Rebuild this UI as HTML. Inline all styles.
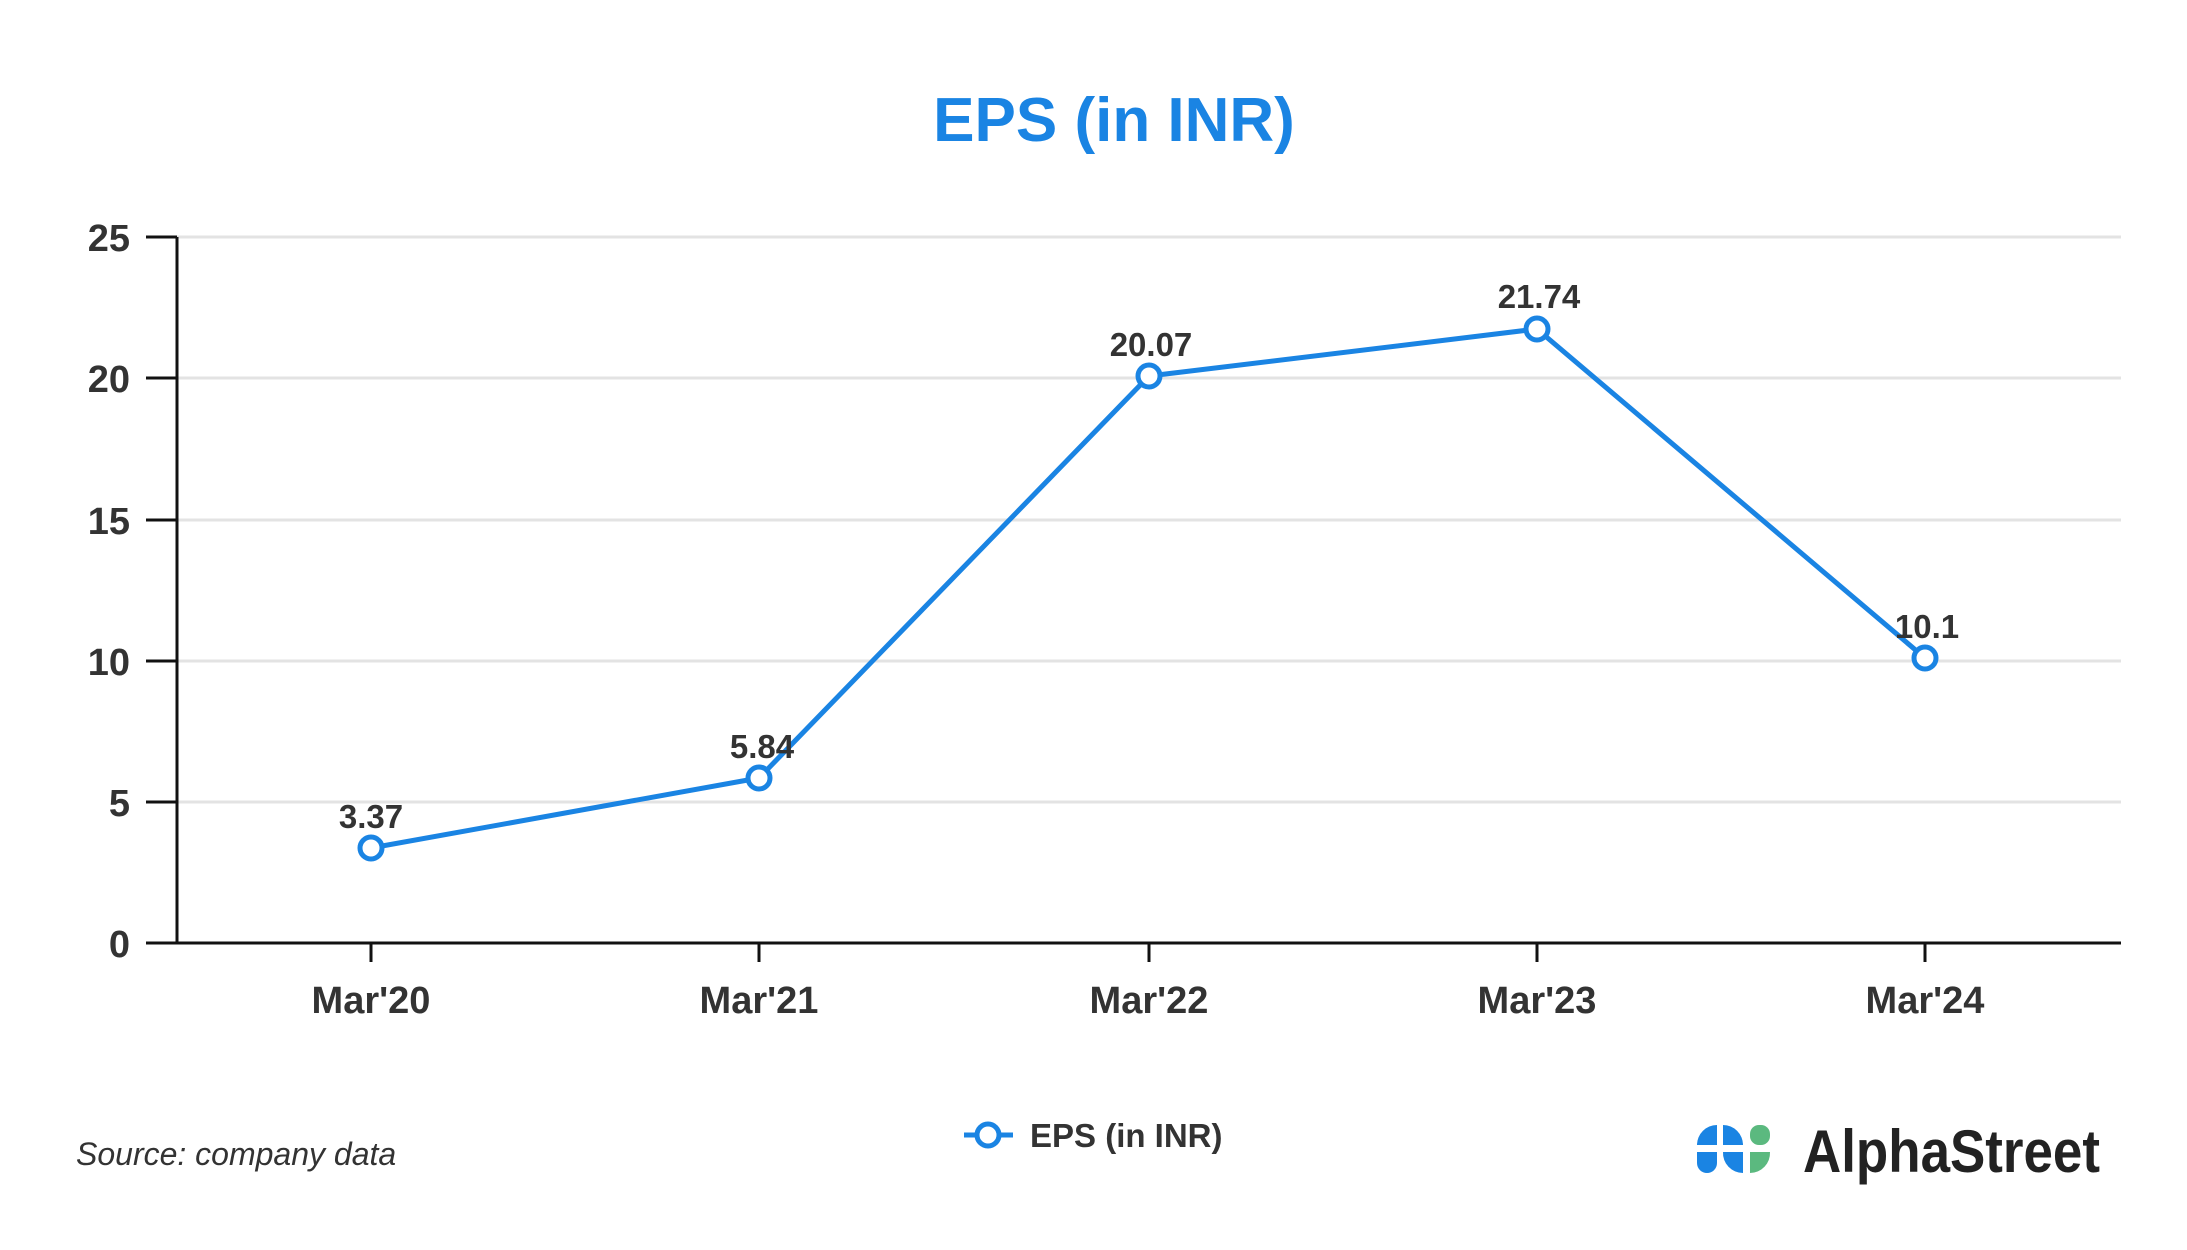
<!DOCTYPE html>
<html><head><meta charset="utf-8"><style>
html,body{margin:0;padding:0;background:#fff;}
svg{display:block;font-family:"Liberation Sans",sans-serif;}
</style></head><body>
<svg width="2187" height="1250" viewBox="0 0 2187 1250">
<rect width="2187" height="1250" fill="#fff"/>
<text x="1114" y="141" text-anchor="middle" font-size="62" font-weight="bold" fill="#1a84e3">EPS (in INR)</text>
<g stroke="#e3e3e3" stroke-width="3">
<line x1="177" y1="237" x2="2121" y2="237"/>
<line x1="177" y1="378" x2="2121" y2="378"/>
<line x1="177" y1="520" x2="2121" y2="520"/>
<line x1="177" y1="661" x2="2121" y2="661"/>
<line x1="177" y1="802" x2="2121" y2="802"/>
</g>
<g stroke="#111" stroke-width="3">
<line x1="177" y1="237" x2="177" y2="943"/>
<line x1="175" y1="943" x2="2121" y2="943"/>
<line x1="146" y1="237" x2="177" y2="237"/>
<line x1="146" y1="378" x2="177" y2="378"/>
<line x1="146" y1="520" x2="177" y2="520"/>
<line x1="146" y1="661" x2="177" y2="661"/>
<line x1="146" y1="802" x2="177" y2="802"/>
<line x1="146" y1="943" x2="177" y2="943"/>
<line x1="371" y1="943" x2="371" y2="962"/>
<line x1="759" y1="943" x2="759" y2="962"/>
<line x1="1149" y1="943" x2="1149" y2="962"/>
<line x1="1537" y1="943" x2="1537" y2="962"/>
<line x1="1925" y1="943" x2="1925" y2="962"/>
</g>
<g font-size="38" font-weight="bold" fill="#333" text-anchor="end">
<text x="130" y="251">25</text>
<text x="130" y="392">20</text>
<text x="130" y="534">15</text>
<text x="130" y="675">10</text>
<text x="130" y="816">5</text>
<text x="130" y="957">0</text>
</g>
<g font-size="38" font-weight="bold" fill="#333" text-anchor="middle">
<text x="371" y="1013">Mar'20</text>
<text x="759" y="1013">Mar'21</text>
<text x="1149" y="1013">Mar'22</text>
<text x="1537" y="1013">Mar'23</text>
<text x="1925" y="1013">Mar'24</text>
</g>
<polyline points="371,848 759,778 1149,376 1537,329 1925,658" fill="none" stroke="#1a84e3" stroke-width="5" stroke-linejoin="round"/>
<g fill="#fff" stroke="#1a84e3" stroke-width="5">
<circle cx="371" cy="848" r="11"/>
<circle cx="759" cy="778" r="11"/>
<circle cx="1149" cy="376" r="11"/>
<circle cx="1537" cy="329" r="11"/>
<circle cx="1925" cy="658" r="11"/>
</g>
<g font-size="33" font-weight="bold" fill="#333" text-anchor="middle">
<text x="371" y="828">3.37</text>
<text x="762" y="758">5.84</text>
<text x="1151" y="356">20.07</text>
<text x="1539" y="308">21.74</text>
<text x="1927" y="638">10.1</text>
</g>
<line x1="964" y1="1135" x2="1013" y2="1135" stroke="#1a84e3" stroke-width="5"/>
<circle cx="988" cy="1135" r="11" fill="#fff" stroke="#1a84e3" stroke-width="5"/>
<text x="1030" y="1147" font-size="33" font-weight="bold" fill="#333">EPS (in INR)</text>
<text x="76" y="1165" font-size="32" font-style="italic" fill="#333">Source: company data</text>
<g>
<path d="M1697,1145 A20,20 0 0 1 1717,1125 L1717,1145 Z" fill="#1a84e3"/>
<path d="M1723,1125 A20,20 0 0 1 1743,1145 L1723,1145 Z" fill="#1a84e3"/>
<rect x="1750" y="1125" width="20" height="20" rx="9" fill="#5bb97f"/>
<path d="M1697,1152 L1717,1152 L1717,1163 A10,10 0 0 1 1697,1163 Z" fill="#1a84e3"/>
<path d="M1723,1152 L1743,1152 L1743,1173 A20,20 0 0 1 1723,1152 Z" fill="#1a84e3"/>
<path d="M1750,1173 L1750,1152 L1770,1152 A20,20 0 0 1 1750,1173 Z" fill="#5bb97f"/>
</g>
<text x="1803" y="1172" font-size="60" font-weight="bold" fill="#222" textLength="297" lengthAdjust="spacingAndGlyphs">AlphaStreet</text>
</svg>
</body></html>
